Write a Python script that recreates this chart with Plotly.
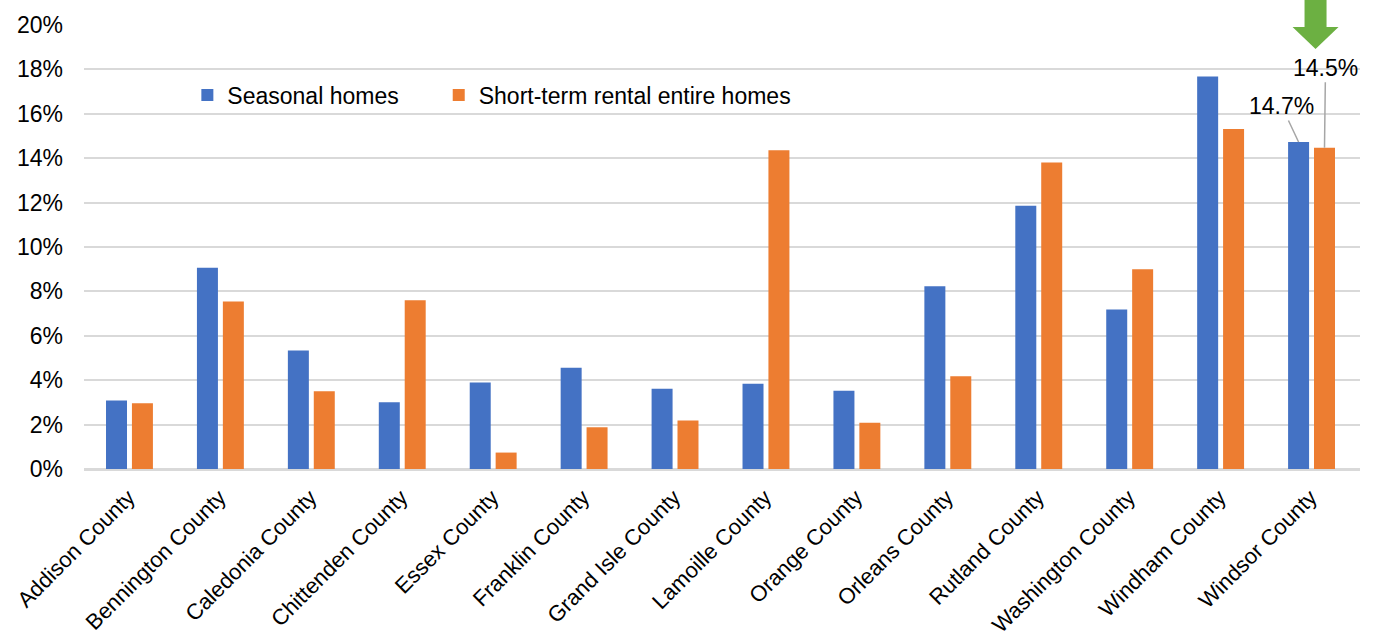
import plotly.graph_objects as go

counties = ["Addison County", "Bennington County", "Caledonia County", "Chittenden County",
            "Essex County", "Franklin County", "Grand Isle County", "Lamoille County",
            "Orange County", "Orleans County", "Rutland County", "Washington County",
            "Windham County", "Windsor County"]
seasonal = [3.08, 9.07, 5.34, 3.01, 3.90, 4.56, 3.61, 3.84, 3.53, 8.23, 11.86, 7.19, 17.68, 14.73]
str_homes = [2.96, 7.54, 3.50, 7.60, 0.74, 1.88, 2.18, 14.36, 2.08, 4.18, 13.81, 9.00, 15.32, 14.47]
y_ticks = [0, 2, 4, 6, 8, 10, 12, 14, 16, 18, 20]

BLUE = "#4472C4"
ORANGE = "#ED7D31"
FONT = "Liberation Sans, Arial, sans-serif"
BARGAP = 0.43
FS = 23

fig = go.Figure()
fig.add_trace(go.Bar(name="Seasonal homes", x=counties, y=seasonal, legend="legend",
                     marker=dict(color=BLUE, line=dict(width=0))))
fig.add_trace(go.Bar(name="Short-term rental entire homes", x=counties, y=str_homes,
                     legend="legend2", marker=dict(color=ORANGE, line=dict(width=0))))

# labels for Windsor County
last = len(counties) - 1
off = (1 - BARGAP) / 4
fig.add_annotation(x=last - off, y=seasonal[last], xref="x", yref="y",
                   text=f"{seasonal[last]:.1f}%", showarrow=True, arrowhead=0,
                   arrowcolor="#a6a6a6", arrowwidth=1.5, ax=-17, ay=-36,
                   font=dict(size=FS, color="#000000", family=FONT))
fig.add_annotation(x=last + off, y=str_homes[last], xref="x", yref="y",
                   text=f"{str_homes[last]:.1f}%", showarrow=True, arrowhead=0,
                   arrowcolor="#a6a6a6", arrowwidth=1.5, ax=1, ay=-80,
                   font=dict(size=FS, color="#000000", family=FONT))

# green arrow
fig.add_shape(type="path", xref="x", yref="paper", xsizemode="pixel", ysizemode="pixel",
              xanchor=last, yanchor=1,
              path="M -7,25 L 15,25 L 15,-2 L 27,-2 L 4,-24 L -19,-2 L -7,-2 Z",
              fillcolor="#6cb042", line=dict(width=0), layer="above")

legend_common = dict(orientation="h", xanchor="left", y=0.842, yanchor="middle",
                     font=dict(size=FS, family=FONT, color="#000000"),
                     bgcolor="rgba(0,0,0,0)")
fig.update_layout(
    width=1375, height=644,
    margin=dict(l=84, r=15, t=25, b=175),
    paper_bgcolor="white", plot_bgcolor="white",
    barmode="group", bargap=BARGAP, bargroupgap=0.19,
    font=dict(family=FONT, size=FS, color="#000000"),
    legend=dict(x=0.081, **legend_common),
    legend2=dict(x=0.278, **legend_common),
    showlegend=True,
)
fig.update_yaxes(range=[0, 20], tickvals=y_ticks, ticktext=[f"{v}%" for v in y_ticks],
                 showgrid=True, gridcolor="#d9d9d9", gridwidth=1.5,
                 zeroline=True, zerolinecolor="#d9d9d9", zerolinewidth=1.5,
                 showline=False, ticks="", ticklabelstandoff=20, automargin=False,
                 tickfont=dict(size=FS, family=FONT, color="#000000"))
fig.update_xaxes(tickangle=-45, ticks="", showline=True, linecolor="#d9d9d9", linewidth=1.5,
                 ticklabelshift=-1, ticklabelstandoff=5, automargin=False,
                 tickfont=dict(size=22, family=FONT, color="#000000"))

fig.write_html("out.html")
